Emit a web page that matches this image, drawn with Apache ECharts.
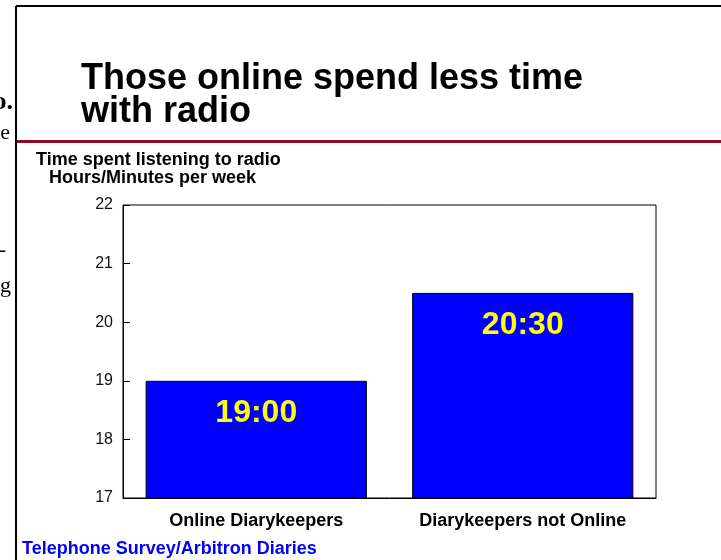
<!DOCTYPE html>
<html>
<head>
<meta charset="utf-8">
<script src="https://cdn.jsdelivr.net/npm/echarts@6/dist/echarts.min.js"></script>
<style>
html,body{margin:0;padding:0;background:#fff;}
#chart{width:721px;height:560px;}
</style>
</head>
<body>
<div id="chart"></div>
<script>
var categories = ['Online Diarykeepers', 'Diarykeepers not Online'];
var values = [19.0, 20.5];
var valueLabels = ['19:00', '20:30'];
var yTicks = [17, 18, 19, 20, 21, 22];
var titleLines = ['Those online spend less time', 'with radio'];
var subtitleLines = ['Time spent listening to radio', 'Hours/Minutes per week'];
var sourceText = 'Telephone Survey/Arbitron Diaries';

var chart = echarts.init(document.getElementById('chart'), null, {renderer: 'canvas'});
var FONT = "'Liberation Sans', Arial, sans-serif";
var SERIF = "'Liberation Serif', 'Times New Roman', serif";

var option = {
  backgroundColor: '#ffffff',
  animation: false,
  grid: {left: 123, right: 65, top: 205, bottom: 62, show: true, borderColor: '#000', borderWidth: 1, backgroundColor: 'transparent'},
  xAxis: {
    type: 'category',
    data: categories,
    axisLine: {show: true, lineStyle: {color: '#000', width: 1}},
    axisTick: {show: false},
    axisLabel: {interval: 0, hideOverlap: false, color: '#000', fontFamily: FONT, fontWeight: 'bold', fontSize: 18, margin: 14}
  },
  yAxis: {
    type: 'value',
    min: yTicks[0],
    max: yTicks[yTicks.length - 1],
    interval: 1,
    axisLine: {show: true, lineStyle: {color: '#000', width: 1}},
    axisTick: {show: true, inside: true, length: 7, lineStyle: {color: '#000'}},
    splitLine: {show: false},
    axisLabel: {color: '#111', fontFamily: FONT, fontSize: 16, margin: 10}
  },
  series: [{
    type: 'bar',
    data: values,
    barCategoryGap: '17%',
    itemStyle: {color: '#0000FF', borderColor: '#000', borderWidth: 1},
    label: {
      show: true,
      position: 'insideTop',
      distance: 16,
      color: '#FFFF00',
      fontFamily: FONT,
      fontWeight: 'bold',
      fontSize: 32,
      formatter: function (p) { return valueLabels[p.dataIndex]; }
    }
  }],
  graphic: [
    {type: 'line', shape: {x1: 16, y1: 6, x2: 721, y2: 6}, style: {stroke: '#000', lineWidth: 2}},
    {type: 'line', shape: {x1: 16, y1: 6, x2: 16, y2: 560}, style: {stroke: '#000', lineWidth: 2}},
    {type: 'rect', shape: {x: 17, y: 140, width: 704, height: 3}, style: {fill: '#8E0A22'}},
    {type: 'text', x: 81, y: 79, style: {text: titleLines[0], font: 'bold 36px ' + FONT, fill: '#000', textVerticalAlign: 'middle'}},
    {type: 'text', x: 81, y: 112, style: {text: titleLines[1], font: 'bold 36px ' + FONT, fill: '#000', textVerticalAlign: 'middle'}},
    {type: 'text', x: 36, y: 160, style: {text: subtitleLines[0], font: 'bold 18px ' + FONT, fill: '#000', textVerticalAlign: 'middle'}},
    {type: 'text', x: 49, y: 178, style: {text: subtitleLines[1], font: 'bold 18px ' + FONT, fill: '#000', textVerticalAlign: 'middle'}},
    {type: 'text', x: 22, y: 549, style: {text: sourceText, font: 'bold 18px ' + FONT, fill: '#0000FF', textVerticalAlign: 'middle'}},
    {type: 'text', x: 13, y: 102, style: {text: 'o.', font: 'bold 26px ' + SERIF, fill: '#000', textAlign: 'right', textVerticalAlign: 'middle'}},
    {type: 'text', x: 10, y: 133, style: {text: 'e', font: '22px ' + SERIF, fill: '#000', textAlign: 'right', textVerticalAlign: 'middle'}},
    {type: 'text', x: 6, y: 250, style: {text: '-', font: '22px ' + SERIF, fill: '#000', textAlign: 'right', textVerticalAlign: 'middle'}},
    {type: 'text', x: 11, y: 286, style: {text: 'g', font: '22px ' + SERIF, fill: '#000', textAlign: 'right', textVerticalAlign: 'middle'}}
  ]
};
chart.setOption(option);
</script>
</body>
</html>
